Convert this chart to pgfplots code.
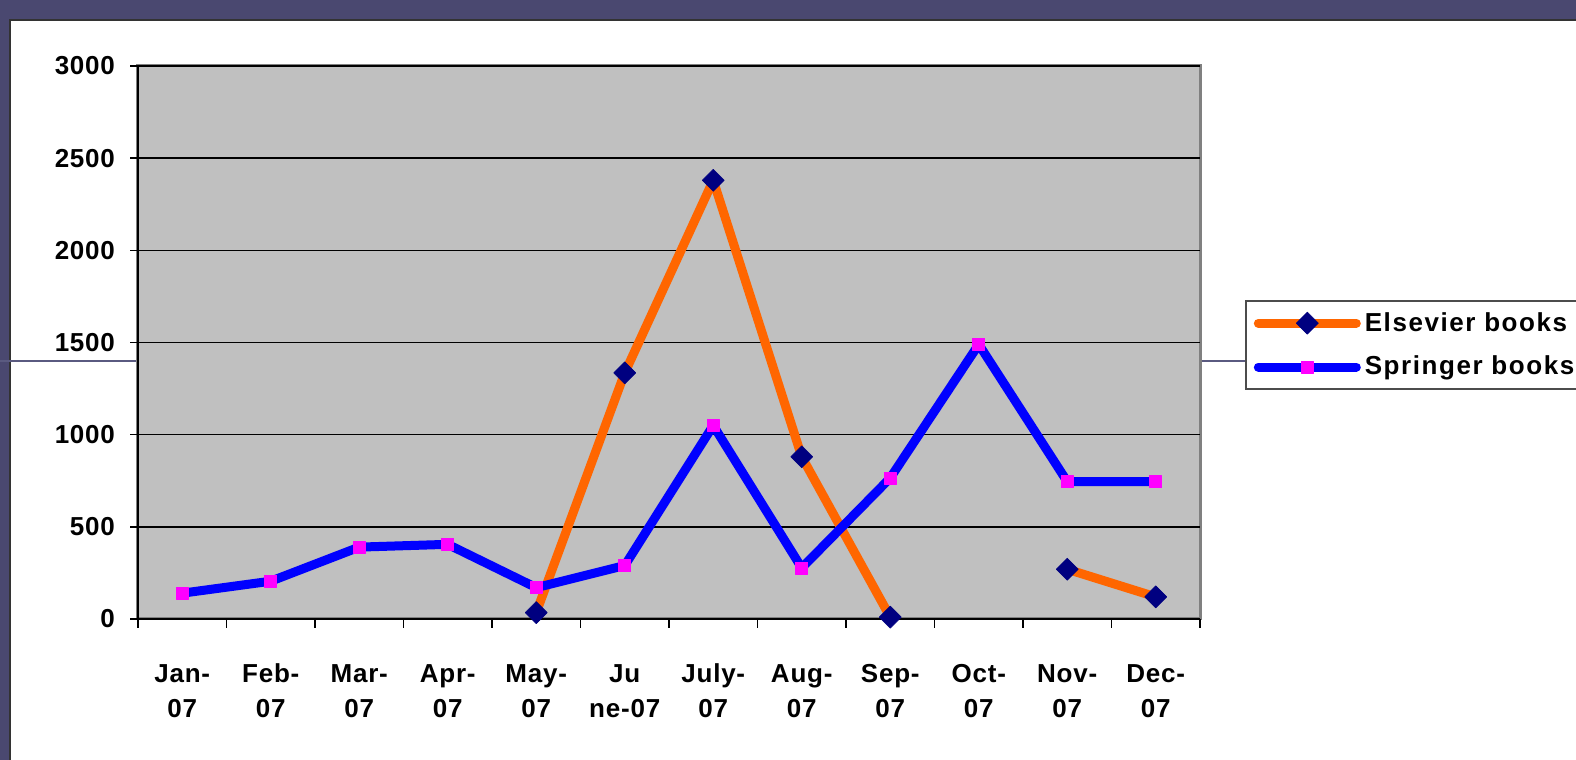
\documentclass[border=0pt]{standalone}
\usepackage{pgfplots}
\pgfplotsset{compat=1.18}
\usepackage{fontspec}
\setmainfont{Liberation Sans}
\definecolor{slide}{HTML}{4A4870}
\definecolor{slideline}{HTML}{5A5A80}
\definecolor{plotgray}{HTML}{C0C0C0}
\definecolor{bordergray}{HTML}{808080}
\definecolor{elsorange}{HTML}{FF6600}
\definecolor{elsnavy}{HTML}{000080}
\definecolor{sprblue}{HTML}{0000FF}
\definecolor{sprmag}{HTML}{FF00FF}
\pgfplotstableread{
x els spr
1 nan 140
2 nan 205
3 nan 390
4 nan 405
5 35 170
6 1335 290
7 2380 1050
8 880 277
9 10 765
10 nan 1490
11 270 745
12 120 745
}\booksdata
\begin{document}
\begin{tikzpicture}[x=0.5pt,y=0.5pt]
\clip (0,0) rectangle (1576,760);
\fill[slide] (0,0) rectangle (1576,760);
\fill[white] (10,0) rectangle (1576,740);
\draw[black!80, line width=1pt] (10,0) -- (10,740) -- (1576,740);
\draw[slideline, line width=0.8pt] (0,399) -- (1576,399);
\begin{axis}[
  at={(69pt,70.5pt)}, anchor=south west,
  width=531pt, height=276.5pt, scale only axis,
  xmin=0.5, xmax=12.5, ymin=0, ymax=3000,
  axis background/.style={fill=plotgray, draw=bordergray, line width=1.5pt},
  axis x line*=bottom, axis y line*=left,
  axis line style={black, line width=1pt},
  ytick={0,500,...,3000},
  ymajorgrids, grid style={black, line width=0.75pt},
  xtick={1,...,12},
  xticklabels={{\strut Jan-\\07},{\strut Feb-\\07},{\strut Mar-\\07},{\strut Apr-\\07},{\strut May-\\07},{\strut Ju\\ne-07},{\strut July-\\07},{\strut Aug-\\07},{\strut Sep-\\07},{\strut Oct-\\07},{\strut Nov-\\07},{\strut Dec-\\07}},
  minor xtick={0.5,1.5,...,12.5},
  major x tick style={draw=none},
  tick align=outside, major tick length=4pt, minor tick length=4.5pt,
  tick style={black, line width=0.75pt},
  /pgf/number format/assume math mode=true,
  /pgf/number format/1000 sep={},
  tick label style={font=\bfseries\fontsize{13}{17.5}\selectfont\addfontfeatures{LetterSpace=3}},
  xticklabel style={align=center, yshift=-12pt},
  yticklabel style={xshift=-4pt},
  unbounded coords=jump,
  legend style={at={(1.0424,0.576)}, anchor=north west, draw=black!70, line width=0.8pt, fill=white,
    font=\bfseries\fontsize{13}{15}\selectfont\addfontfeatures{LetterSpace=6}, row sep=7pt, inner ysep=3.5pt, inner xsep=4pt,
    cells={anchor=west}},
  legend image code/.code={\draw[mark repeat=2,mark phase=2, line cap=round] plot coordinates {(0pt,0pt) (24.5pt,0pt) (49pt,0pt)};},
]
\addplot[elsorange, line width=4.5pt, line join=round, mark=square*, mark size=3.9pt,
  mark options={rotate=45, fill=elsnavy, draw=elsnavy, line width=0.3pt}] table[x=x, y=els] {\booksdata};
\addlegendentry{Elsevier books}
\addplot[sprblue, line width=4.5pt, line join=round, mark=square*, mark size=3pt,
  mark options={fill=sprmag, draw=sprmag, line width=0.3pt}] table[x=x, y=spr] {\booksdata};
\addlegendentry{Springer books}
\end{axis}
\end{tikzpicture}
\end{document}
